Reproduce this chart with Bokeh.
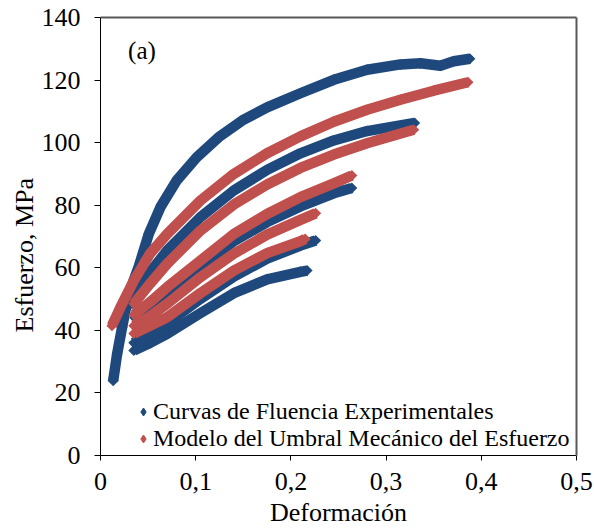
import math
from bokeh.plotting import figure
from bokeh.models import (Range1d, LinearAxis, FixedTicker, CustomJSTickFormatter,
                          Legend, LegendItem, Label, Title)
from bokeh.embed import file_html
from bokeh.resources import INLINE

# ---------------- data ----------------
x_ticks = [0, 0.1, 0.2, 0.3, 0.4, 0.5]
x_tick_labels = ["0", "0,1", "0,2", "0,3", "0,4", "0,5"]
y_ticks = [0, 20, 40, 60, 80, 100, 120, 140]

series_names = ["Curvas de Fluencia Experimentales",
                "Modelo del Umbral Mecánico del Esfuerzo"]

# Experimental flow curves (blue)
exp1_x = [0.0133, 0.0175, 0.0227, 0.0297, 0.040, 0.0507, 0.063, 0.080, 0.101, 0.124,
          0.149, 0.175, 0.210, 0.245, 0.280, 0.315, 0.336, 0.357, 0.371, 0.388]
exp1_y = [23.9, 32.5, 41, 51.7, 60.2, 70.8, 79.4, 87.9, 95.3, 101.7,
          107.1, 111.3, 115.8, 120.1, 123.3, 125.0, 125.4, 124.6, 126.0, 126.8]
exp2_x = [0.033, 0.038, 0.052, 0.070, 0.105, 0.140, 0.175, 0.210, 0.245, 0.280, 0.330]
exp2_y = [48.5, 51.7, 58.6, 65.5, 76.2, 84.7, 91.3, 96.6, 100.7, 103.7, 106.3]
exp3_x = [0.036, 0.052, 0.070, 0.105, 0.140, 0.175, 0.210, 0.245, 0.264]
exp3_y = [44, 47.5, 51.1, 60, 68.5, 74.6, 79.6, 83.8, 85.5]
exp4_x = [0.035, 0.052, 0.070, 0.105, 0.140, 0.175, 0.210, 0.226]
exp4_y = [36, 39.5, 42.3, 50.1, 57.2, 62.9, 67.1, 68.7]
exp5_x = [0.035, 0.052, 0.070, 0.105, 0.140, 0.175, 0.210, 0.217]
exp5_y = [33.6, 36, 38.9, 45.5, 51.9, 56.3, 58.7, 59.1]

# Mechanical threshold stress model (red)
mod1_x = [0.012, 0.021, 0.035, 0.052, 0.070, 0.105, 0.140, 0.175, 0.210, 0.245,
          0.280, 0.315, 0.350, 0.386]
mod1_y = [41.5, 47.4, 55.9, 64.5, 70.8, 81.5, 90, 96.6, 102, 106.7,
          110.5, 113.7, 116.6, 119.3]
mod2_x = [0.035, 0.052, 0.070, 0.105, 0.140, 0.175, 0.210, 0.245, 0.280, 0.329]
mod2_y = [48.5, 54.9, 61.3, 71.9, 80.2, 86.6, 91.9, 96.2, 99.8, 104.1]
mod3_x = [0.035, 0.052, 0.070, 0.105, 0.140, 0.175, 0.210, 0.245, 0.264]
mod3_y = [45, 49, 53.8, 62.3, 70.8, 77.2, 82.6, 87, 89.5]
mod4_x = [0.035, 0.052, 0.070, 0.105, 0.140, 0.175, 0.210, 0.226]
mod4_y = [41.5, 44.5, 48.5, 57, 64.5, 70.6, 75.3, 77.4]
mod5_x = [0.035, 0.052, 0.070, 0.105, 0.140, 0.175, 0.210, 0.215]
mod5_y = [39, 41.5, 44.2, 51.9, 59.1, 64.7, 68.5, 69.2]

exp_curves = [(exp1_x, exp1_y), (exp2_x, exp2_y), (exp3_x, exp3_y),
              (exp4_x, exp4_y), (exp5_x, exp5_y)]
mod_curves = [(mod1_x, mod1_y), (mod2_x, mod2_y), (mod3_x, mod3_y),
              (mod4_x, mod4_y), (mod5_x, mod5_y)]

# ---------------- styling ----------------
BLUE = "#1F497D"
RED = "#C0504D"
FONT = "Liberation Serif"

p = figure(frame_width=476, frame_height=438, output_backend="svg",
           toolbar_location=None,
           x_range=Range1d(0, 0.5), y_range=Range1d(0, 140),
           min_border_left=100, min_border_right=18, min_border_top=17,
           min_border_bottom=74, background_fill_color="white",
           border_fill_color="white")
p.outline_line_color = None
p.xgrid.visible = False
p.ygrid.visible = False

for xs, ys in exp_curves:
    p.line(xs, ys, line_width=10.5, color=BLUE, line_join="round")
    p.scatter(xs, ys, marker="square", angle=math.pi / 4, size=7.8,
              color=BLUE, line_width=0)
for xs, ys in mod_curves:
    p.line(xs, ys, line_width=10.5, color=RED, line_join="round")
    p.scatter(xs, ys, marker="square", angle=math.pi / 4, size=7.8,
              color=RED, line_width=0)

# legend-only renderers (diamond glyphs), their single point lies off the plot
leg_b = p.scatter([-1], [-100], marker="diamond", color=BLUE)
leg_r = p.scatter([-1], [-100], marker="diamond", color=RED)

# axes
xa = p.xaxis[0]
xa.ticker = FixedTicker(ticks=x_ticks)
xa.formatter = CustomJSTickFormatter(args=dict(tvals=x_ticks, tlabels=x_tick_labels), code="""
    for (let i = 0; i < tvals.length; i++) {
        if (Math.abs(tvals[i] - tick) < 1e-9) return tlabels[i];
    }
    return String(tick);
""")
ya = p.yaxis[0]
ya.ticker = FixedTicker(ticks=y_ticks)
for ax in (xa, ya):
    ax.axis_line_color = "black"
    ax.axis_line_width = 1
    ax.major_tick_line_color = "black"
    ax.major_tick_in = 0
    ax.minor_tick_line_color = None
    ax.major_label_text_font = FONT
    ax.major_label_text_font_size = "26px"
    ax.major_label_text_color = "black"
xa.major_tick_out = 5
xa.major_label_standoff = 12
ya.major_tick_out = 6
ya.major_label_standoff = 14

xa.axis_label = "Deformación"
xa.axis_label_text_font = FONT
xa.axis_label_text_font_size = "26px"
xa.axis_label_text_font_style = "normal"
xa.axis_label_text_color = "black"
xa.axis_label_standoff = 5

# top / right frame lines
for side in ("above", "right"):
    ax = LinearAxis(ticker=FixedTicker(ticks=[]), axis_line_color="#595959",
                    axis_line_width=2, major_tick_line_color=None,
                    minor_tick_line_color=None, major_label_text_font_size="0px")
    p.add_layout(ax, side)

# y axis title (placed as a side title so it can sit below centre as in the reference)
p.add_layout(Title(text="Esfuerzo, MPa", text_font=FONT, text_font_size="26px",
                   text_font_style="normal", text_color="black",
                   align="left", offset=123, standoff=0), "left")

p.add_layout(Label(x=0.029, y=129.5, text="(a)", text_font=FONT,
                   text_font_size="25px", text_align="left",
                   text_baseline="middle", text_color="black"))

legend = Legend(items=[LegendItem(label=series_names[0], renderers=[leg_b]),
                       LegendItem(label=series_names[1], renderers=[leg_r])],
                location=(33, 3), orientation="vertical",
                padding=0, spacing=0, margin=0,
                glyph_width=20, glyph_height=27, label_height=27,
                label_standoff=0, label_text_font=FONT,
                label_text_font_size="24px", label_text_color="black",
                border_line_alpha=0, background_fill_alpha=0)
p.add_layout(legend, "center")

open("out.html", "w").write(file_html(p, INLINE))
